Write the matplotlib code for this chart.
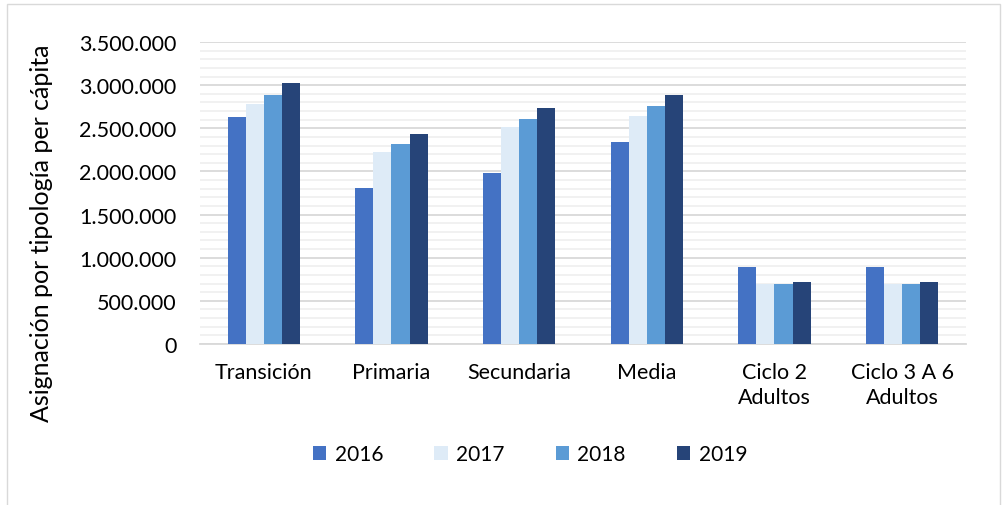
import matplotlib.pyplot as plt
import matplotlib.ticker as ticker
from matplotlib.patches import Rectangle
import numpy as np

plt.rcParams['font.family'] = ['Lato', 'DejaVu Sans']

categorias = ['Transición', 'Primaria', 'Secundaria', 'Media', 'Ciclo 2\nAdultos', 'Ciclo 3 A 6\nAdultos']
anios = ['2016', '2017', '2018', '2019']
v2016 = [2630000, 1810000, 1980000, 2340000, 895000, 895000]
v2017 = [2780000, 2220000, 2510000, 2640000, 695000, 695000]
v2018 = [2890000, 2320000, 2610000, 2760000, 695000, 695000]
v2019 = [3030000, 2430000, 2730000, 2890000, 715000, 715000]
colores = ['#4472C4', '#DEEBF7', '#5B9BD5', '#264478']

fig = plt.figure(facecolor='white', figsize=(10.08, 5.06), dpi=100)
ax = fig.add_axes([200 / 1008, 1 - 345 / 506, 766 / 1008, 302 / 506])

x = np.arange(len(categorias))
ancho = 0.142
for i, (serie, c) in enumerate(zip([v2016, v2017, v2018, v2019], colores)):
    ax.bar(x + (i - 1.5) * ancho, serie, width=ancho, color=c, label=anios[i], zorder=3)

ax.set_xlim(-0.5, len(categorias) - 0.5)
ax.set_ylim(0, 3500000)
ax.yaxis.set_major_locator(ticker.MultipleLocator(500000))
ax.yaxis.set_minor_locator(ticker.MultipleLocator(100000))
ax.yaxis.set_major_formatter(ticker.FuncFormatter(lambda v, p: f'{int(v):,}'.replace(',', '.')))
ax.grid(axis='y', which='major', color='#D9D9D9', linewidth=1.3, zorder=0)
ax.grid(axis='y', which='minor', color='#F0F0F0', linewidth=1.3, zorder=0)
ax.tick_params(axis='both', which='both', length=0, labelsize=15.5, colors='#000000')
ax.tick_params(axis='y', pad=17)
ax.tick_params(axis='x', pad=13)
ax.set_xticks(x)
ax.set_xticklabels(categorias, linespacing=1.3)
for s in ['top', 'right', 'left']:
    ax.spines[s].set_visible(False)
ax.spines['bottom'].set_color('#D9D9D9')
ax.spines['bottom'].set_linewidth(1.3)

fig.text(42 / 1008, 1 - 233 / 506, 'Asignación por tipología per cápita', fontsize=18,
         rotation=90, ha='center', va='center')

fig.legend(loc='center', bbox_to_anchor=(530 / 1008, 1 - 455 / 506), ncol=4, frameon=False,
           fontsize=15, handlelength=0.65, handleheight=0.65, columnspacing=2.45, handletextpad=0.4)

fig.patches.append(Rectangle((7 / 1008, -0.01), 993 / 1008, 1 - 5 / 506 + 0.01, transform=fig.transFigure,
                             fill=False, edgecolor='#D9D9D9', linewidth=1))

fig.savefig('out.png', dpi=100)
